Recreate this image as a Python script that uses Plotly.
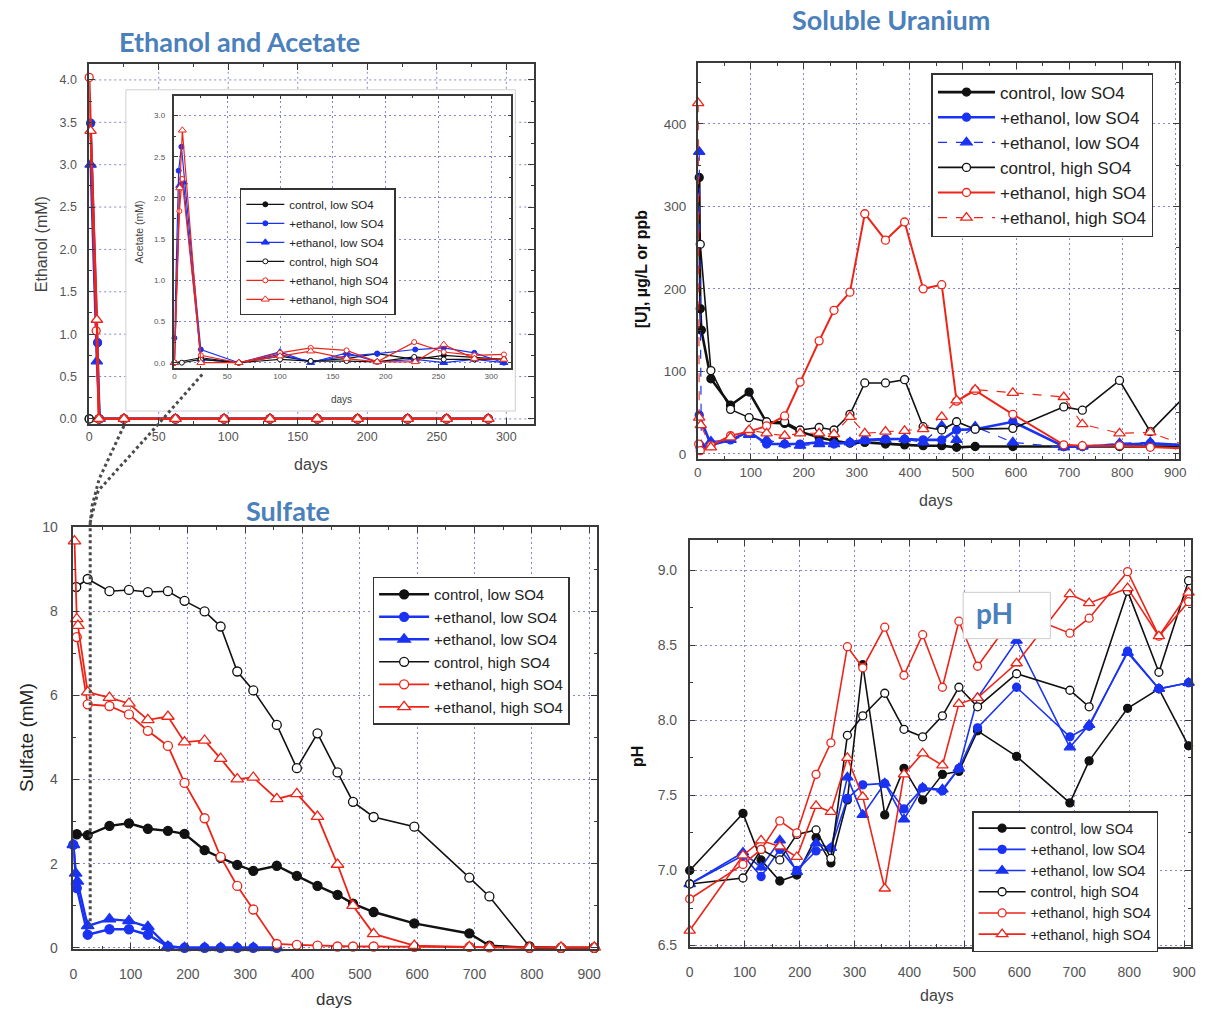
import plotly.graph_objects as go

W, H = 1208, 1025

# ---------------- shared series info ----------------
NAMES = ["control, low SO4", "+ethanol, low SO4", "+ethanol, low SO4",
         "control, high SO4", "+ethanol, high SO4", "+ethanol, high SO4"]

# ---------------- Ethanol (mM) ----------------
eth_ctrl_low_x = [0, 7, 25, 62, 97, 130, 164, 193, 229, 257, 287]
eth_ctrl_low_y = [0, 0, 0, 0, 0, 0, 0, 0, 0, 0, 0]
eth_etlow_c_x = [1, 6, 7.5, 25, 62, 97, 130, 164, 193, 229, 257, 287]
eth_etlow_c_y = [3.49, 0.90, 0, 0, 0, 0, 0, 0, 0, 0, 0, 0]
eth_etlow_t_x = [1, 5.5, 7.5, 25, 62, 97, 130, 164, 193, 229, 257, 287]
eth_etlow_t_y = [3.0, 0.68, 0, 0, 0, 0, 0, 0, 0, 0, 0, 0]
eth_ctrl_high_x = [0, 7, 25, 62, 97, 130, 164, 193, 229, 257, 287]
eth_ctrl_high_y = [0, 0, 0, 0, 0, 0, 0, 0, 0, 0, 0]
eth_ethigh_c_x = [0, 5, 7, 25, 62, 97, 130, 164, 193, 229, 257, 287]
eth_ethigh_c_y = [4.03, 1.04, 0, 0, 0, 0, 0, 0, 0, 0, 0, 0]
eth_ethigh_t_x = [1, 5.5, 7, 25, 62, 97, 130, 164, 193, 229, 257, 287]
eth_ethigh_t_y = [3.40, 1.17, 0, 0, 0, 0, 0, 0, 0, 0, 0, 0]

# ---------------- Acetate (mM), inset ----------------
ac_ctrl_low_x = [0, 25, 61, 100, 129, 163, 192, 228, 255, 284, 312]
ac_ctrl_low_y = [0, 0.06, 0, 0.08, 0.02, 0.05, 0.11, 0.04, 0.09, 0.06, 0.04]
ac_etlow_c_x = [0, 4, 6.6, 25, 61, 100, 129, 163, 192, 228, 255, 284, 312]
ac_etlow_c_y = [0.3, 2.33, 2.62, 0.16, 0, 0.10, 0.01, 0.08, 0.11, 0.16, 0.18, 0.12, 0.0]
ac_etlow_t_x = [0, 5, 8.5, 25, 61, 100, 129, 163, 192, 228, 255, 284, 312]
ac_etlow_t_y = [0, 2.15, 2.19, 0.04, 0, 0.13, 0.0, 0.12, 0.01, 0.04, 0.0, 0.04, 0.0]
ac_ctrl_high_x = [0, 7, 25, 61, 100, 129, 163, 192, 227, 255, 284, 312]
ac_ctrl_high_y = [0, 0, 0.04, 0, 0.04, 0.02, 0.02, 0.01, 0.07, 0.04, 0.04, 0.04]
ac_ethigh_c_x = [0, 4.7, 7.2, 25, 61, 100, 129, 163, 192, 227, 255, 284, 312]
ac_ethigh_c_y = [0, 1.84, 2.23, 0.09, 0, 0.12, 0.18, 0.15, 0.01, 0.25, 0.13, 0.09, 0.10]
ac_ethigh_t_x = [0, 5, 7.5, 25, 61, 100, 129, 163, 192, 228, 255, 284, 312]
ac_ethigh_t_y = [0, 2.12, 2.82, 0.0, 0, 0.08, 0.14, 0.05, 0.01, 0.01, 0.22, 0.05, 0.04]

# ---------------- Sulfate (mM) ----------------
so4_ctrl_low_x = [6, 25, 63, 97, 130, 165, 194, 229, 257, 286, 314, 355, 390, 426, 461, 488,
                  524, 595, 691, 726, 796, 851, 909]
so4_ctrl_low_y = [2.70, 2.68, 2.90, 2.96, 2.83, 2.78, 2.71, 2.32, 2.14, 1.97, 1.83, 1.95, 1.71,
                  1.47, 1.26, 1.05, 0.85, 0.58, 0.34, 0.05, 0.0, 0.0, 0.0]
so4_etlow_c_x = [0, 6, 25, 63, 97, 130, 165, 194, 229, 257, 286, 314, 355]
so4_etlow_c_y = [2.45, 1.42, 0.31, 0.44, 0.44, 0.31, 0.03, 0.0, 0.0, 0.0, 0.0, 0.0, 0.0]
so4_etlow_t_x = [0, 4, 7, 25, 63, 97, 130, 165, 194, 229, 257, 286, 314, 355]
so4_etlow_t_y = [2.45, 1.77, 1.58, 0.52, 0.68, 0.64, 0.50, 0.03, 0.0, 0.0, 0.0, 0.0, 0.0, 0.0]
so4_ctrl_high_x = [5, 25, 63, 97, 130, 165, 194, 229, 257, 286, 314, 355, 390, 426, 461, 488,
                   524, 595, 691, 726, 796, 851, 909]
so4_ctrl_high_y = [8.58, 8.77, 8.48, 8.51, 8.46, 8.48, 8.25, 8.00, 7.64, 6.57, 6.12, 5.30, 4.27,
                   5.10, 4.17, 3.47, 3.11, 2.88, 1.67, 1.22, 0.03, 0.0, 0.0]
so4_ethigh_c_x = [6, 25, 63, 97, 130, 165, 194, 229, 257, 286, 314, 355, 390, 426, 461, 488,
                  524, 595, 691, 726, 796, 851, 909]
so4_ethigh_c_y = [7.39, 5.79, 5.75, 5.55, 5.16, 4.80, 3.92, 3.08, 2.16, 1.47, 0.91, 0.09, 0.07,
                  0.05, 0.03, 0.03, 0.03, 0.02, 0.02, 0.01, 0.0, 0.0, 0.0]
so4_ethigh_t_x = [2, 6, 8, 25, 63, 97, 130, 165, 194, 229, 257, 286, 314, 355, 390, 426, 461,
                  488, 524, 595, 691, 726, 796, 851, 909]
so4_ethigh_t_y = [9.67, 7.82, 7.66, 6.08, 5.95, 5.81, 5.42, 5.50, 4.89, 4.93, 4.50, 4.01, 4.05,
                  3.54, 3.66, 3.12, 1.98, 1.00, 0.33, 0.05, 0.02, 0.01, 0.01, 0.01, 0.01]

# ---------------- Soluble uranium (ug/L) ----------------
u_ctrl_low_x = [3, 5, 7, 25, 62, 97, 130, 164, 193, 229, 257, 287, 315, 354, 390, 425, 460,
                488, 523, 594, 690, 725, 795, 853, 908]
u_ctrl_low_y = [335, 176, 150, 91, 59, 75, 38, 37, 27, 20, 16, 13, 14, 12, 11, 10, 10, 8, 9,
                9, 9, 9, 9, 9, 9]
u_etlow_c_x = [3, 25, 62, 97, 130, 164, 193, 229, 257, 287, 315, 354, 390, 425, 460, 488,
               523, 594, 690, 725, 795, 853, 908]
u_etlow_c_y = [47, 11, 17, 27, 12, 12, 12, 14, 12, 14, 17, 18, 18, 17, 17, 29, 30, 39, 9, 9,
               11, 13, 11]
u_etlow_t_x = [3, 7, 25, 62, 97, 130, 164, 193, 229, 257, 287, 315, 354, 390, 425, 460, 488,
               523, 594, 690, 725, 795, 853, 908]
u_etlow_t_y = [366, 10, 15, 17, 23, 17, 12, 10, 12, 12, 14, 16, 17, 18, 14, 34, 17, 33, 14,
               8, 9, 13, 14, 10]
u_ctrl_high_x = [5, 25, 62, 97, 130, 164, 193, 229, 257, 287, 315, 354, 390, 425, 460, 488,
                 523, 594, 690, 725, 795, 853, 908]
u_ctrl_high_y = [254, 101, 54, 44, 39, 39, 29, 32, 29, 48, 86, 86, 90, 33, 29, 39, 30, 31, 57,
                 53, 89, 27, 63]
u_ethigh_c_x = [2, 5, 25, 62, 97, 130, 164, 193, 229, 257, 287, 315, 354, 390, 425, 460, 488,
                523, 594, 690, 725, 795, 853, 908]
u_ethigh_c_y = [12, 4, 10, 22, 27, 34, 46, 87, 137, 174, 196, 291, 259, 281, 200, 205, 64, 77,
                48, 11, 10, 10, 8, 7]
u_ethigh_t_x = [1, 3, 6, 25, 62, 97, 130, 164, 193, 229, 257, 287, 315, 354, 390, 425, 460,
                488, 523, 594, 690, 725, 795, 853, 908]
u_ethigh_t_y = [425, 44, 35, 8, 20, 29, 25, 22, 25, 25, 24, 45, 25, 27, 28, 30, 45, 65, 78,
                74, 69, 36, 25, 26, 13]

# ---------------- pH ----------------
ph_days = [0, 97, 130, 164, 195, 230, 257, 287, 315, 355, 390, 424, 460, 490, 524, 595, 692,
           727, 797, 854, 908]
ph_ctrl_low = [7.00, 7.38, 7.07, 6.93, 6.97, 7.22, 7.05, 7.47, 8.37, 7.37, 7.68, 7.47, 7.64,
               7.66, 7.93, 7.76, 7.45, 7.73, 8.08, 8.21, 7.83]
ph_etlow_c = [6.91, 7.10, 6.96, 7.14, 7.00, 7.13, 7.15, 7.48, 7.57, 7.58, 7.41, 7.55, 7.53,
              7.68, 7.95, 8.22, 7.89, 7.96, 8.46, 8.21, 8.25]
ph_etlow_t = [6.91, 7.12, 7.02, 7.20, 6.99, 7.18, 7.15, 7.62, 7.37, 7.58, 7.34, 7.55, 7.54,
              7.68, 8.15, 8.53, 7.82, 7.97, 8.45, 8.21, 8.25]
ph_ctrl_high = [6.91, 6.95, 7.14, 7.07, 7.24, 7.27, 7.08, 7.90, 8.03, 8.18, 7.94, 7.89, 8.03,
                8.22, 8.09, 8.31, 8.20, 8.09, 8.86, 8.32, 8.93]
ph_ethigh_c = [6.81, 7.04, 7.14, 7.33, 7.25, 7.64, 7.85, 8.49, 8.35, 8.62, 8.30, 8.57, 8.22,
               8.66, 8.36, 8.72, 8.58, 8.68, 8.99, 8.56, 8.79]
ph_ethigh_t = [6.60, 7.10, 7.20, 7.16, 7.09, 7.43, 7.39, 7.75, 7.49, 6.88, 7.64, 7.78, 7.70,
               8.11, 8.15, 8.38, 8.84, 8.78, 8.88, 8.56, 8.85]

# ---------------- styling ----------------
BLACK = "#111111"
BLUE = "#1a33f2"
RED = "#ee2418"
COLORS = [BLACK, BLUE, BLUE, BLACK, RED, RED]
SYMBOLS = ["circle", "circle", "triangle-up", "circle", "circle", "triangle-up"]
FILLED = [True, True, True, False, False, False]
AX = "#3a3a3a"
GRID = "#8585d2"
GRIDDASH = "2px,3px"
TICK = "#555555"
FONT = "Liberation Sans, Arial, sans-serif"
TFONT = "Lato, Open Sans, sans-serif"
TITLE_C = "#4a80bb"

# ethanol panel geometry (pixels) and ranges
ETH_PX = (86, 535, 57, 422)  # left, right, top, bottom
ETH_XR = [0, 320]
ETH_YR = [-0.058, 4.186]


def hx(p):
    return p / W


def vy(p):
    return 1 - p / H


def eth_dx(p):
    l, r, _, _ = ETH_PX
    return ETH_XR[0] + (p - l) / (r - l) * (ETH_XR[1] - ETH_XR[0])


def eth_dy(p):
    _, _, t, b = ETH_PX
    return ETH_YR[1] - (p - t) / (b - t) * (ETH_YR[1] - ETH_YR[0])


fig = go.Figure()


def add(x, y, i, xa, ya, legend, show, size, width, dash="solid", mlw=1.3):
    c = COLORS[i]
    s = size + 2 if SYMBOLS[i] == "triangle-up" else size
    fig.add_trace(go.Scatter(
        x=x, y=y, mode="lines+markers", name=NAMES[i],
        line=dict(color=c, width=width, dash=dash),
        marker=dict(symbol=SYMBOLS[i], size=s, color=c if FILLED[i] else "white",
                    line=dict(color=c, width=mlw)),
        xaxis=xa, yaxis=ya, legend=legend, showlegend=show, cliponaxis=False))


eth = [(eth_ctrl_low_x, eth_ctrl_low_y), (eth_etlow_c_x, eth_etlow_c_y),
       (eth_etlow_t_x, eth_etlow_t_y), (eth_ctrl_high_x, eth_ctrl_high_y),
       (eth_ethigh_c_x, eth_ethigh_c_y), (eth_ethigh_t_x, eth_ethigh_t_y)]
for i, (x, y) in enumerate(eth):
    add(x, y, i, "x", "y", "legend", False, 8, 2.4)

ac = [(ac_ctrl_low_x, ac_ctrl_low_y), (ac_etlow_c_x, ac_etlow_c_y),
      (ac_etlow_t_x, ac_etlow_t_y), (ac_ctrl_high_x, ac_ctrl_high_y),
      (ac_ethigh_c_x, ac_ethigh_c_y), (ac_ethigh_t_x, ac_ethigh_t_y)]
for i, (x, y) in enumerate(ac):
    add(x, y, i, "x2", "y2", "legend", True, 5, 1.2, mlw=1)

so4 = [(so4_ctrl_low_x, so4_ctrl_low_y), (so4_etlow_c_x, so4_etlow_c_y),
       (so4_etlow_t_x, so4_etlow_t_y), (so4_ctrl_high_x, so4_ctrl_high_y),
       (so4_ethigh_c_x, so4_ethigh_c_y), (so4_ethigh_t_x, so4_ethigh_t_y)]
so4_w = [2.4, 2.4, 2.4, 1.6, 1.8, 1.8]
for i, (x, y) in enumerate(so4):
    add(x, y, i, "x3", "y3", "legend2", True, 9, so4_w[i])

uu = [(u_ctrl_low_x, u_ctrl_low_y), (u_etlow_c_x, u_etlow_c_y),
      (u_etlow_t_x, u_etlow_t_y), (u_ctrl_high_x, u_ctrl_high_y),
      (u_ethigh_c_x, u_ethigh_c_y), (u_ethigh_t_x, u_ethigh_t_y)]
u_w = [2.6, 2.6, 1.2, 1.6, 2.0, 1.1]
u_d = ["solid", "solid", "dash", "solid", "solid", "dash"]
for i, (x, y) in enumerate(uu):
    add(x, y, i, "x4", "y4", "legend3", True, 8, u_w[i], u_d[i])

ph = [ph_ctrl_low, ph_etlow_c, ph_etlow_t, ph_ctrl_high, ph_ethigh_c, ph_ethigh_t]
for i, y in enumerate(ph):
    add(ph_days, y, i, "x5", "y5", "legend4", True, 8, 1.6)


def axis(px0, px1, rng, dtick, mdtick, fs, anchor, horiz, fmt=None, tl=6, grid=True, so=0):
    dom = [hx(px0), hx(px1)] if horiz else [vy(px1), vy(px0)]
    return dict(domain=dom, range=rng, anchor=anchor, tick0=0, dtick=dtick,
                ticks="inside", ticklen=tl, tickwidth=1.2, tickcolor=AX,
                showline=True, linecolor=AX, linewidth=1.5, mirror="allticks",
                showgrid=grid, gridcolor=GRID, griddash=GRIDDASH, gridwidth=1,
                zeroline=False, tickformat=fmt, fixedrange=True, ticklabelstandoff=so,
                tickfont=dict(family=FONT, size=fs, color=TICK),
                minor=dict(tick0=0, dtick=mdtick, ticks="inside", ticklen=tl * 0.55,
                           tickcolor=AX, tickwidth=1, showgrid=False))


fig.update_layout(
    width=W, height=H, margin=dict(l=0, r=0, t=0, b=0),
    paper_bgcolor="white", plot_bgcolor="white",
    font=dict(family=FONT, color="#222"),
    xaxis=axis(ETH_PX[0], ETH_PX[1], ETH_XR, 50, 25, 12.5, "y", True, grid=False),
    yaxis=axis(ETH_PX[2], ETH_PX[3], ETH_YR, 0.5, 0.25, 12.5, "x", False, ".1f",
               grid=False, so=8),
    xaxis2=axis(172, 512, [0, 319], 50, 25, 8, "y2", True, tl=4),
    yaxis2=axis(89, 365, [-0.06, 3.24], 0.5, 0.25, 8, "x2", False, ".1f", tl=4, so=6),
    xaxis3=axis(70, 598, [0, 913], 100, 50, 14, "y3", True, so=11),
    yaxis3=axis(527, 955, [-0.03, 10], 2, 1, 14, "x3", False, so=11),
    xaxis4=axis(700, 1186, [0, 907.5], 100, 50, 13.5, "y4", True),
    yaxis4=axis(56, 458, [-6.5, 473.4], 100, 50, 13.5, "x4", False, so=7),
    xaxis5=axis(692, 1198, [0, 912.6], 100, 50, 14, "y5", True, so=11),
    yaxis5=axis(540, 953, [6.49, 9.2], 0.5, 0.25, 14, "x5", False, ".1f", so=8),
)

LEG = dict(bgcolor="white", bordercolor="#333333", borderwidth=1.5,
           xanchor="left", yanchor="top", tracegroupgap=0)
fig.update_layout(
    legend=dict(LEG, x=hx(238), y=vy(183), itemwidth=38,
                font=dict(family=FONT, size=11.5, color="#222")),
    legend2=dict(LEG, x=hx(372), y=vy(577), itemwidth=50,
                 font=dict(family=FONT, size=15, color="#222")),
    legend3=dict(LEG, x=hx(936), y=vy(66), itemwidth=57,
                 font=dict(family=FONT, size=17, color="#222")),
    legend4=dict(LEG, x=hx(977), y=vy(815), itemwidth=47,
                 font=dict(family=FONT, size=14, color="#222")),
)

# ethanol panel gridlines (drawn as shapes so the inset frame can hide them)
GRIDLINE = dict(color=GRID, width=1, dash=GRIDDASH)
for gx in range(50, 301, 50):
    fig.add_shape(type="line", xref="x", yref="y", layer="below",
                  x0=gx, x1=gx, y0=ETH_YR[0], y1=ETH_YR[1], line=GRIDLINE)
for k in range(0, 9):
    gy = k * 0.5
    fig.add_shape(type="line", xref="x", yref="y", layer="below",
                  x0=ETH_XR[0], x1=ETH_XR[1], y0=gy, y1=gy, line=GRIDLINE)

# white inset frame, covering the main gridlines
fig.add_shape(type="rect", xref="x", yref="y", layer="below",
              x0=eth_dx(123), x1=eth_dx(516), y0=eth_dy(409), y1=eth_dy(83),
              fillcolor="white", line=dict(color="#cfcfcf", width=1))


def path(points):
    return "M " + " L ".join(f"{hx(a):.5f},{vy(b):.5f}" for a, b in points)


DOT = dict(color="#4a4a4a", width=3, dash="dot")
fig.add_shape(type="path", xref="paper", yref="paper", layer="above",
              path=path([(121, 424), (96, 478), (89, 505), (87, 522)]), line=DOT)
fig.add_shape(type="path", xref="paper", yref="paper", layer="above",
              path=path([(200, 372), (140, 440), (95, 490), (87, 522)]), line=DOT)
fig.add_shape(type="line", xref="paper", yref="paper", layer="above",
              x0=hx(87), x1=hx(87), y0=vy(522), y1=vy(932), line=DOT)

# pH label box
fig.add_shape(type="rect", xref="paper", yref="paper", layer="above",
              x0=hx(968), x1=hx(1056), y0=vy(640), y1=vy(593),
              fillcolor="white", line=dict(color="#cccccc", width=1))


def ann(text, x, y, size, color, family=FONT, angle=0):
    fig.add_annotation(text=text, x=hx(x), y=vy(y), xref="paper", yref="paper",
                       showarrow=False, textangle=angle, xanchor="center", yanchor="middle",
                       font=dict(family=family, size=size, color=color))


# panel titles
ann("<b>Ethanol and Acetate</b>", 238, 34, 27, TITLE_C, TFONT)
ann("<b>Soluble Uranium</b>", 895, 12, 27, TITLE_C, TFONT)
ann("<b>Sulfate</b>", 287, 510, 27, TITLE_C, TFONT)
ann("<b>pH</b>", 1000, 614, 28, TITLE_C, TFONT)

# axis titles
ann("Ethanol (mM)", 38, 240, 16, "#444", angle=-90)
ann("days", 310, 463, 16, "#444")
ann("Acetate (mM)", 136, 227, 10.5, "#444", angle=-90)
ann("days", 341, 397, 10, "#444")
ann("Sulfate (mM)", 22, 740, 19, "#222", angle=-90)
ann("days", 333, 1006, 17, "#333")
ann("<b>[U], µg/L or ppb</b>", 643, 265, 16, "#111", angle=-90)
ann("days", 941, 500, 16, "#444")
ann("<b>pH</b>", 640, 760, 16, "#111", angle=-90)
ann("days", 942, 1002, 16, "#444")

fig.write_html("out.html", post_script="document.body.style.margin='0px';",
               config={"displayModeBar": False})
